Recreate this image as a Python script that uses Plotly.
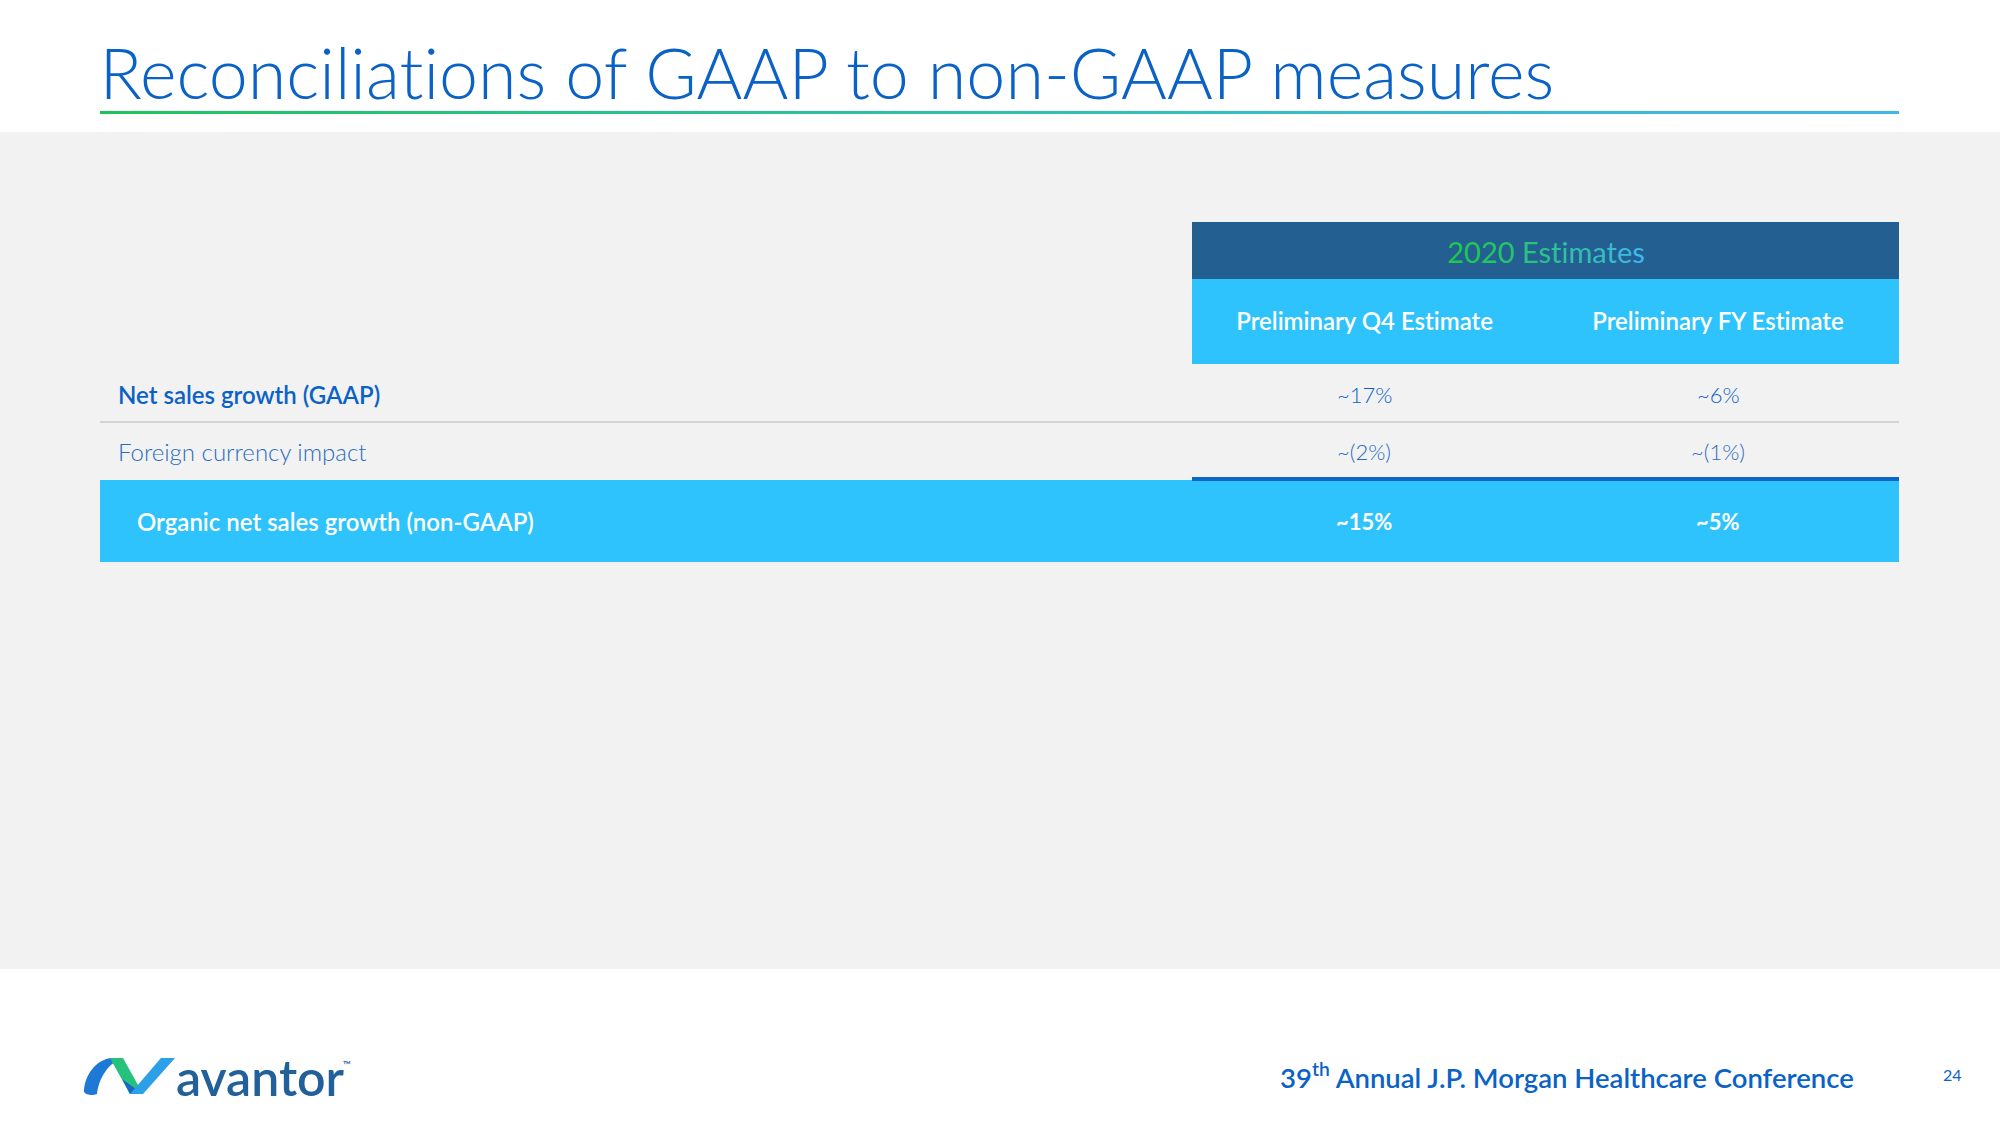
import plotly.graph_objects as go

# ---------------- data ----------------
title_text = "Reconciliations of GAAP to non-GAAP measures"
group_header = "2020 Estimates"
column_headers = ["Preliminary Q4 Estimate", "Preliminary FY Estimate"]
row_labels = ["Net sales growth (GAAP)", "Foreign currency impact",
              "Organic net sales growth (non-GAAP)"]
q4_values = ["~17%", "~(2%)", "~15%"]
fy_values = ["~6%", "~(1%)", "~5%"]
footer_text = "39<sup>th</sup> Annual J.P. Morgan Healthcare Conference"
page_number = "24"
brand = "avantor"

# ---------------- layout / style ----------------
W, H = 2000, 1125
FONT = "Lato"
BLUE = "#0a62c6"
DARK_HDR = "#235f91"
CYAN = "#2ec3fc"
GRAY_BG = "#f2f2f2"
table_left, table_right, est_left = 100, 1899, 1192
col_x = [1364, 1718]
row_y = [394, 451, 521]
label_x = [116, 116, 135]
row_colors = [BLUE, "#2a6cbf", "white"]
row_weights = [600, 300, 600]
val_weights = [300, 300, 700]

fig = go.Figure()

shapes = []
# gray content band
shapes.append(dict(type="rect", x0=0, x1=W, y0=132, y1=969, fillcolor=GRAY_BG,
                   line_width=0, layer="below"))
# header bands
shapes.append(dict(type="rect", x0=est_left, x1=table_right, y0=222, y1=279,
                   fillcolor=DARK_HDR, line_width=0))
shapes.append(dict(type="rect", x0=est_left, x1=table_right, y0=279, y1=364,
                   fillcolor=CYAN, line_width=0))
# row separator
shapes.append(dict(type="line", x0=table_left, x1=table_right, y0=422, y1=422,
                   line=dict(color="#d3d3d3", width=2)))
# highlighted total row
shapes.append(dict(type="rect", x0=table_left, x1=table_right, y0=480, y1=562,
                   fillcolor=CYAN, line_width=0))
shapes.append(dict(type="line", x0=est_left, x1=table_right, y0=479, y1=479,
                   line=dict(color="#0a66c8", width=4)))
# logo mark (ribbon pieces)
shapes.append(dict(type="path",
                   path="M 84 1092 C 84 1076, 96 1059, 112 1058 L 123 1058 "
                        "C 108 1063, 99 1078, 97 1094 C 92 1096, 86 1095, 84 1092 Z",
                   fillcolor="#1d78d6", line_width=0))
shapes.append(dict(type="path",
                   path="M 110 1058 L 123 1058 L 143 1094 L 130 1094 Z",
                   fillcolor="#26c27c", line_width=0))
shapes.append(dict(type="path",
                   path="M 122 1079 L 143 1094 L 130 1094 Z",
                   fillcolor="#1766c8", line_width=0))
shapes.append(dict(type="path",
                   path="M 130 1094 L 143 1094 L 175 1058 L 161 1058 Z",
                   fillcolor="#2b9fe8", line_width=0))

fig.update_layout(shapes=shapes)

# gradient underline below title
fig.add_trace(go.Scatter(
    x=[100, 1899, 1899, 100, 100], y=[111, 111, 114, 114, 111],
    mode="lines", fill="toself", line=dict(width=0),
    fillgradient=dict(type="horizontal",
                      colorscale=[[0, "#1ec45a"], [0.5, "#2fc0b0"], [1, "#40b6ea"]]),
    hoverinfo="skip", showlegend=False))

ann = []
# title
ann.append(dict(x=97, y=72, text=title_text, xanchor="left", yanchor="middle",
                showarrow=False, font=dict(family=FONT, size=70, color=BLUE, weight=300)))

# gradient header text
def lerp(c1, c2, t):
    a = [int(c1[i:i + 2], 16) for i in (1, 3, 5)]
    b = [int(c2[i:i + 2], 16) for i in (1, 3, 5)]
    return "#%02x%02x%02x" % tuple(round(a[k] + (b[k] - a[k]) * t) for k in range(3))

n = len(group_header)
spans = "".join(
    '<span style="color:%s">%s</span>' % (lerp("#1ec84e", "#40b8ea", (i / (n - 1)) ** 1.2), ch)
    for i, ch in enumerate(group_header))
ann.append(dict(x=(est_left + table_right) / 2, y=251, text=spans, showarrow=False,
                xanchor="center", yanchor="middle",
                font=dict(family=FONT, size=29, color="#1ec84e", weight=400)))

for cx, hdr in zip(col_x, column_headers):
    ann.append(dict(x=cx, y=320, text=hdr, showarrow=False, xanchor="center",
                    yanchor="middle", font=dict(family=FONT, size=24, color="white", weight=600)))

for i, lab in enumerate(row_labels):
    ann.append(dict(x=label_x[i], y=row_y[i], text=lab, showarrow=False, xanchor="left",
                    yanchor="middle",
                    font=dict(family=FONT, size=24, color=row_colors[i], weight=row_weights[i])))
    for cx, vals in zip(col_x, (q4_values, fy_values)):
        ann.append(dict(x=cx, y=row_y[i], text=vals[i], showarrow=False, xanchor="center",
                        yanchor="middle",
                        font=dict(family=FONT, size=22, color=row_colors[i] if i < 2 else "white",
                                  weight=val_weights[i])))

# footer
ann.append(dict(x=174, y=1077, text=brand, showarrow=False, xanchor="left", yanchor="middle",
                font=dict(family=FONT, size=50, color="#22609a", weight=600)))
ann.append(dict(x=341, y=1064, text="™", showarrow=False, xanchor="left", yanchor="middle",
                font=dict(family=FONT, size=11, color="#22609a")))
ann.append(dict(x=1856, y=1075, text=footer_text, showarrow=False, xanchor="right",
                yanchor="middle", font=dict(family=FONT, size=27.5, color=BLUE, weight=600)))
ann.append(dict(x=1952, y=1074, text=page_number, showarrow=False, xanchor="center",
                yanchor="middle", font=dict(family=FONT, size=16, color=BLUE)))

fig.update_layout(
    annotations=ann,
    width=W, height=H, margin=dict(l=0, r=0, t=0, b=0),
    paper_bgcolor="white", plot_bgcolor="white",
    xaxis=dict(range=[0, W], visible=False, fixedrange=True),
    yaxis=dict(range=[H, 0], visible=False, fixedrange=True),
    showlegend=False, hovermode=False,
)

post = ("document.body.style.margin='0';document.body.style.overflow='hidden';"
        "var s=document.createElement('style');"
        "s.innerHTML='text{font-variant-ligatures:none !important;}';"
        "document.head.appendChild(s);")

fig.write_html("out.html", config={"displayModeBar": False}, post_script=post)
